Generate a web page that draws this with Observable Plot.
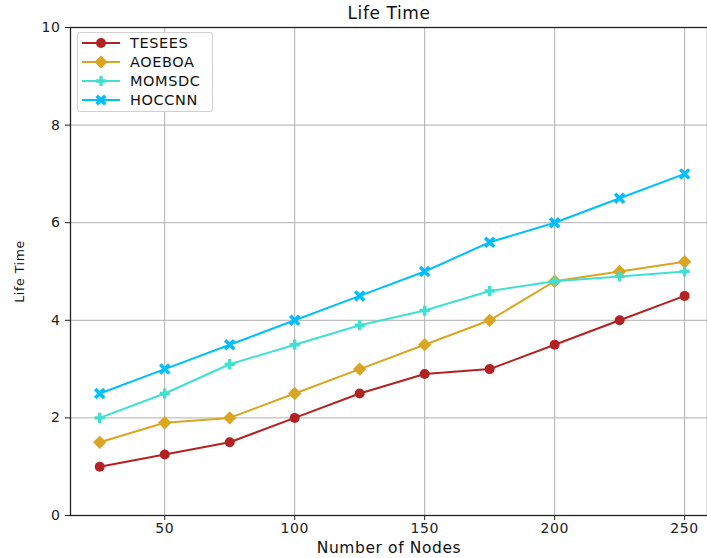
<!DOCTYPE html>
<html><head><meta charset="utf-8">
<script src="https://cdn.jsdelivr.net/npm/d3@7"></script>
<script src="https://cdn.jsdelivr.net/npm/@observablehq/plot@0.6"></script>
<style>
body{margin:0;background:#fff;font-family:"DejaVu Sans",sans-serif;}
#wrap{position:relative;width:707px;height:558px;overflow:hidden;}
#legend{position:absolute;left:77px;top:32px;width:136px;height:80px;border:1px solid #d0d0d0;border-radius:3px;background:rgba(255,255,255,0.85);box-sizing:border-box;}
svg text{letter-spacing:0.6px;}
svg text.ylab{letter-spacing:0;}
</style></head>
<body><div id="wrap"><div id="legend"></div></div>
<script>
const nodes = [25,50,75,100,125,150,175,200,225,250];
const seriesNames = ["TESEES","AOEBOA","MOMSDC","HOCCNN"];
const tesees = [1,1.25,1.5,2,2.5,2.9,3,3.5,4,4.5];
const aoeboa = [1.5,1.9,2,2.5,3,3.5,4,4.8,5,5.2];
const momsdc = [2,2.5,3.1,3.5,3.9,4.2,4.6,4.8,4.9,5];
const hoccnn = [2.5,3,3.5,4,4.5,5,5.6,6,6.5,7];
const xTicks = [50,100,150,200,250];
const yTicks = [0,2,4,6,8,10];
const colors = ["#b22222","#daa520","#40e0d0","#00bfff"];
const symbols = ["circle","diamond2","cross","times"];

const values = [tesees,aoeboa,momsdc,hoccnn];
const data = [];
values.forEach((arr,si)=>arr.forEach((v,i)=>data.push({series:seriesNames[si],x:nodes[i],y:v})));

const markFor = (si) => {
  const d = data.filter(r=>r.series===seriesNames[si]);
  const c = colors[si];
  const marks = [Plot.line(d,{x:"x",y:"y",stroke:c,strokeWidth:2})];
  if (symbols[si]==="times") marks.push(Plot.dot(d,{x:"x",y:"y",symbol:"times",r:4.2,stroke:c,strokeWidth:3.5}));
  else if (symbols[si]==="cross") marks.push(Plot.dot(d,{x:"x",y:"y",symbol:"cross",r:4.3,fill:c}));
  else if (symbols[si]==="diamond2") marks.push(Plot.dot(d,{x:"x",y:"y",symbol:"diamond2",r:6,fill:c}));
  else marks.push(Plot.dot(d,{x:"x",y:"y",symbol:"circle",r:5,fill:c}));
  return marks;
};

const chart = Plot.plot({
  width:707, height:558,
  marginLeft:70, marginTop:27, marginBottom:43, marginRight:0,
  style:{fontFamily:"DejaVu Sans, sans-serif", fontSize:"14px", color:"#222", background:"#fff"},
  x:{domain:[13.75,258.8], ticks:xTicks, label:null},
  y:{domain:[0,10], ticks:yTicks, label:null},
  marks:[
    Plot.gridX(xTicks,{stroke:"#b0b0b0",strokeOpacity:1,strokeWidth:1}),
    Plot.gridY(yTicks,{stroke:"#b0b0b0",strokeOpacity:1,strokeWidth:1}),
    Plot.axisX({ticks:xTicks, tickSize:5, tickPadding:3, fontSize:14, label:null}),
    Plot.axisY({ticks:yTicks, tickSize:5, tickPadding:5, fontSize:14, label:null}),
    ...markFor(0), ...markFor(1), ...markFor(2), ...markFor(3),
    Plot.frame({stroke:"#222", strokeWidth:1.3}),
    Plot.text(["Life Time"],{frameAnchor:"top", lineAnchor:"middle", dy:-14, fontSize:17, fill:"#111"}),
    Plot.text(["Number of Nodes"],{frameAnchor:"bottom", lineAnchor:"middle", dy:33, fontSize:15.5, fill:"#111"}),
    Plot.text(["Life Time"],{frameAnchor:"left", textAnchor:"middle", lineAnchor:"middle", dx:-51, rotate:-90, fontSize:12.5, fill:"#111", className:"ylab"})
  ]
});
document.getElementById("wrap").prepend(chart);
chart.style.position="absolute"; chart.style.left="0"; chart.style.top="0";

const leg = d3.select("#legend").append("svg").attr("width",134).attr("height",78);
seriesNames.forEach((n,i)=>{
  const g = leg.append("g").attr("transform",`translate(0,${10+i*19})`);
  g.append("line").attr("x1",4).attr("x2",42).attr("y1",0).attr("y2",0).attr("stroke",colors[i]).attr("stroke-width",2);
  const sym = {circle:d3.symbolCircle,diamond2:d3.symbolDiamond2,cross:d3.symbolCross,times:d3.symbolTimes}[symbols[i]];
  const sz = {circle:78,diamond2:110,cross:55,times:50}[symbols[i]];
  const p = g.append("path").attr("transform","translate(23,0)").attr("d",d3.symbol(sym,sz)());
  if (symbols[i]==="times") p.attr("fill","none").attr("stroke",colors[i]).attr("stroke-width",3.5);
  else p.attr("fill",colors[i]);
  g.append("text").attr("x",52).attr("y",5).attr("font-size",14.5).attr("fill","#111").attr("font-family","DejaVu Sans, sans-serif").attr("letter-spacing","1.2px").text(n);
});
</script></body></html>
